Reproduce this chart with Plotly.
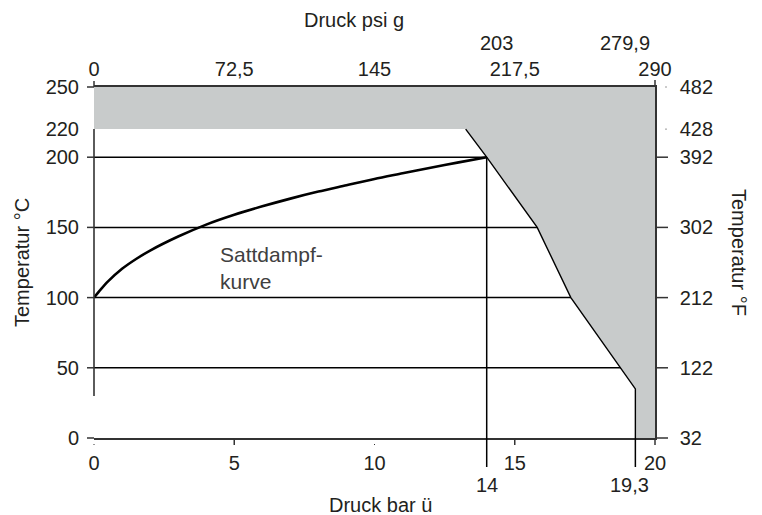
import plotly.graph_objects as go

# --- data -------------------------------------------------------------
# saturated steam curve (gauge pressure in bar, temperature in °C)
steam_bar = [0, 0.25, 0.5, 1, 1.5, 2, 3, 4, 5, 6, 7, 8, 9, 10, 11, 12, 13, 14]
steam_temp = [100, 106, 111.5, 120.5, 127.5, 133.5, 143.5, 152, 159, 165,
              170.5, 175.5, 180, 184.5, 188.5, 192.5, 196.3, 200]

# boundary of the non-permitted operating range (grey area)
limit_bar = [13.25, 14, 15.8, 17, 19.3, 19.3]
limit_temp = [220, 200, 150, 100, 35, 0]
max_temp = 220

# axes
bar_range = [0, 20]
temp_range = [0, 250]
bar_ticks = [0, 5, 10, 15, 20]
bar_labels = ["0", "5", "10", "15", "20"]
psi_labels = ["0", "72,5", "145", "217,5", "290"]
marked_bar = [14, 19.3]
marked_bar_labels = ["14", "19,3"]
marked_psi_labels = ["203", "279,9"]
temp_ticks = [0, 50, 100, 150, 200, 220, 250]
temp_c_labels = ["0", "50", "100", "150", "200", "220", "250"]
temp_f_labels = ["32", "122", "212", "302", "392", "428", "482"]
grid_temps = [200, 150, 100, 50]
left_tick_temps = [250, 200, 150, 100, 50, 0]
right_tick_temps = [200, 150, 100, 50, 0]
right_dot_temps = [250, 220]

FONT = "Liberation Sans, Arial, sans-serif"
INK = "#231f20"
AX = "#333333"
GREY = "#c8cbcb"


def px(v):
    return (v - bar_range[0]) / (bar_range[1] - bar_range[0])


def py(v):
    return (v - temp_range[0]) / (temp_range[1] - temp_range[0])


fig = go.Figure()

# grey area: everything above 220 °C and right of the limit line
area_x = [bar_range[0]] + limit_bar + [bar_range[1], bar_range[1], bar_range[0]]
area_y = [max_temp] + limit_temp + [temp_range[0], temp_range[1], temp_range[1]]
fig.add_trace(go.Scatter(x=area_x, y=area_y, mode="lines", fill="toself",
                         fillcolor=GREY, line=dict(width=0), hoverinfo="skip"))

# limit line
fig.add_trace(go.Scatter(x=limit_bar, y=limit_temp, mode="lines",
                         line=dict(color="black", width=1.4), hoverinfo="skip"))

# saturated steam curve
fig.add_trace(go.Scatter(x=steam_bar, y=steam_temp, mode="lines",
                         line=dict(color="black", width=2.6, shape="spline", smoothing=0.8),
                         hoverinfo="skip"))

# secondary axes carrier (psi on top, °F on the right)
fig.add_trace(go.Scatter(x=bar_range, y=temp_range, xaxis="x2", yaxis="y2",
                         mode="lines", line=dict(width=0), opacity=0, hoverinfo="skip"))

shapes = []
# horizontal grid lines (covered by the grey area)
for t in grid_temps:
    shapes.append(dict(type="line", layer="below", xref="x", yref="y",
                       x0=bar_range[0], x1=bar_range[1], y0=t, y1=t,
                       line=dict(color="black", width=1.5)))
# vertical line at 14 bar up to the curve end
shapes.append(dict(type="line", xref="x", yref="y", x0=14, x1=14,
                   y0=0, y1=steam_temp[-1], line=dict(color="black", width=1.5)))
# extensions of the marked pressures below the axis
for b in marked_bar:
    shapes.append(dict(type="line", xref="paper", yref="paper",
                       xsizemode="scaled", ysizemode="pixel", yanchor=0,
                       x0=px(b), x1=px(b), y0=0, y1=-29,
                       line=dict(color="black", width=1.5)))
# left axis line (only between 30 and 220 °C)
shapes.append(dict(type="line", xref="paper", yref="paper", x0=0, x1=0,
                   y0=py(30), y1=py(max_temp), line=dict(color=AX, width=1.6)))
# left ticks
for t in left_tick_temps:
    shapes.append(dict(type="line", xref="paper", yref="paper",
                       xsizemode="pixel", xanchor=0, x0=-7, x1=0,
                       y0=py(t), y1=py(t), line=dict(color=AX, width=1.5)))
# right ticks
for t in right_tick_temps:
    shapes.append(dict(type="line", xref="paper", yref="paper",
                       xsizemode="pixel", xanchor=1, x0=0, x1=13,
                       y0=py(t), y1=py(t), line=dict(color=AX, width=1.5)))
for t in right_dot_temps:
    shapes.append(dict(type="line", xref="paper", yref="paper",
                       xsizemode="pixel", xanchor=1, x0=10.5, x1=11.5,
                       y0=py(t), y1=py(t), line=dict(color=AX, width=1)))
# bottom ticks
for b in [5, 15, 20]:
    shapes.append(dict(type="line", xref="paper", yref="paper",
                       ysizemode="pixel", yanchor=0, x0=px(b), x1=px(b), y0=0, y1=-7,
                       line=dict(color=AX, width=1.5)))
for b in [0, 10]:
    shapes.append(dict(type="line", xref="paper", yref="paper",
                       ysizemode="pixel", yanchor=0, x0=px(b), x1=px(b), y0=-6, y1=-7,
                       line=dict(color=AX, width=1)))
# top ticks
for b, ln in [(0, 6), (20, 7)]:
    shapes.append(dict(type="line", xref="paper", yref="paper",
                       ysizemode="pixel", yanchor=1, x0=px(b), x1=px(b), y0=0, y1=ln,
                       line=dict(color=AX, width=1.5)))

# page geometry (used to place the titles)
W, H = 762, 515
ML, MR, MT, MB = 94, 107, 87, 77
pw, ph = W - ML - MR, H - MT - MB


def page(xp, yp):
    return (xp - ML) / pw, (H - MB - yp) / ph


annotations = []
for b, lab, sh in zip(marked_bar, marked_bar_labels, [0, -6]):
    annotations.append(dict(x=b, xref="x", y=0, yref="paper", yshift=-47, xshift=sh,
                            text=lab, showarrow=False, yanchor="middle",
                            font=dict(family=FONT, size=20, color=INK)))
for b, lab, sh in zip(marked_bar, marked_psi_labels, [10, -10]):
    annotations.append(dict(x=b, xref="x", y=1, yref="paper", yshift=44, xshift=sh,
                            text=lab, showarrow=False, yanchor="middle",
                            font=dict(family=FONT, size=20, color=INK)))
annotations.append(dict(x=4.41, xref="x", y=121, yref="y", text="Sattdampf-<br>kurve",
                        showarrow=False, xanchor="left", yanchor="middle", align="left",
                        font=dict(family=FONT, size=21, color="#404040")))
for text, xp, yp, ang in [("Druck psi g", 354, 20, 0), ("Druck bar ü", 380, 505, 0),
                          ("Temperatur °C", 22, 262, -90), ("Temperatur °F", 739, 252, 90)]:
    xa, ya = page(xp, yp)
    annotations.append(dict(x=xa, y=ya, xref="paper", yref="paper", text=text,
                            showarrow=False, textangle=ang, xanchor="center",
                            yanchor="middle", font=dict(family=FONT, size=20, color=INK)))

tickfont = dict(family=FONT, size=20, color=INK)
fig.update_layout(
    width=W, height=H, margin=dict(l=ML, r=MR, t=MT, b=MB, pad=0),
    paper_bgcolor="white", plot_bgcolor="white", showlegend=False,
    xaxis=dict(range=bar_range, tickvals=bar_ticks, ticktext=bar_labels, ticks="",
               showgrid=False, zeroline=False, showline=True, linecolor=AX, linewidth=1.5,
               tickfont=tickfont, ticklabelstandoff=6, fixedrange=True),
    xaxis2=dict(range=bar_range, tickvals=bar_ticks, ticktext=psi_labels, ticks="",
                overlaying="x", side="top", anchor="y",
                showgrid=False, zeroline=False, showline=True, linecolor=AX, linewidth=1.5,
                tickfont=tickfont, ticklabelstandoff=1, fixedrange=True),
    yaxis=dict(range=temp_range, tickvals=temp_ticks, ticktext=temp_c_labels, ticks="",
               showgrid=False, zeroline=False, showline=False,
               tickfont=tickfont, ticklabelstandoff=14, fixedrange=True),
    yaxis2=dict(range=temp_range, tickvals=temp_ticks, ticktext=temp_f_labels, ticks="",
                overlaying="y", side="right", anchor="x",
                showgrid=False, zeroline=False, showline=True, linecolor=AX, linewidth=1.5,
                tickfont=tickfont, ticklabelstandoff=19, fixedrange=True),
    shapes=shapes, annotations=annotations,
)

fig.write_html("out.html")
